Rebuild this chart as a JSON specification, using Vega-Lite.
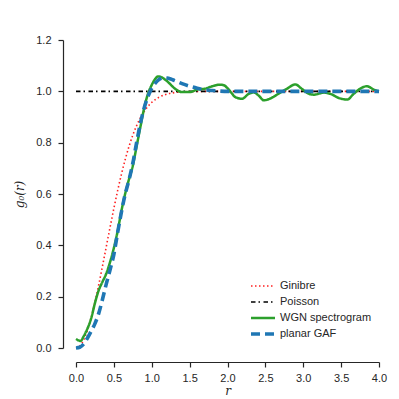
{
  "$schema": "https://vega.github.io/schema/vega-lite/v6.json",
  "autosize": {"type": "none"},
  "padding": {"left": 76, "top": 40, "right": 20, "bottom": 51},
  "width": 303,
  "height": 308,
  "config": {
    "view": {"stroke": null},
    "axis": {
      "grid": false,
      "domainColor": "#262626",
      "tickColor": "#262626",
      "labelColor": "#262626",
      "titleColor": "#262626",
      "tickSize": 5,
      "domainWidth": 1.2,
      "tickWidth": 1.2,
      "labelFont": "Liberation Sans",
      "labelFontSize": 11,
      "titleFont": "DejaVu Serif",
      "titleFontStyle": "italic",
      "titleFontWeight": "normal",
      "titleFontSize": 12
    },
    "legend": {
      "labelFont": "Liberation Sans",
      "labelFontSize": 11,
      "labelColor": "#262626"
    }
  },
  "data": {
    "values": [
      {"series": "Ginibre", "r": 0, "g": 0},
      {"series": "Ginibre", "r": 0.05, "g": 0.0078},
      {"series": "Ginibre", "r": 0.1, "g": 0.0309},
      {"series": "Ginibre", "r": 0.15, "g": 0.0682},
      {"series": "Ginibre", "r": 0.2, "g": 0.1181},
      {"series": "Ginibre", "r": 0.25, "g": 0.1783},
      {"series": "Ginibre", "r": 0.3, "g": 0.2463},
      {"series": "Ginibre", "r": 0.35, "g": 0.3194},
      {"series": "Ginibre", "r": 0.4, "g": 0.3951},
      {"series": "Ginibre", "r": 0.45, "g": 0.4707},
      {"series": "Ginibre", "r": 0.5, "g": 0.5441},
      {"series": "Ginibre", "r": 0.55, "g": 0.6134},
      {"series": "Ginibre", "r": 0.6, "g": 0.6773},
      {"series": "Ginibre", "r": 0.65, "g": 0.7348},
      {"series": "Ginibre", "r": 0.7, "g": 0.7855},
      {"series": "Ginibre", "r": 0.75, "g": 0.8292},
      {"series": "Ginibre", "r": 0.8, "g": 0.8661},
      {"series": "Ginibre", "r": 0.85, "g": 0.8967},
      {"series": "Ginibre", "r": 0.9, "g": 0.9215},
      {"series": "Ginibre", "r": 0.95, "g": 0.9413},
      {"series": "Ginibre", "r": 1.0, "g": 0.9568},
      {"series": "Ginibre", "r": 1.1, "g": 0.9777},
      {"series": "Ginibre", "r": 1.2, "g": 0.9892},
      {"series": "Ginibre", "r": 1.3, "g": 0.9951},
      {"series": "Ginibre", "r": 1.4, "g": 0.9979},
      {"series": "Ginibre", "r": 1.5, "g": 0.9992},
      {"series": "Ginibre", "r": 1.7, "g": 1.0},
      {"series": "Ginibre", "r": 2.0, "g": 1.0},
      {"series": "Ginibre", "r": 4.0, "g": 1.0},
      {"series": "Poisson", "r": 0, "g": 1.0},
      {"series": "Poisson", "r": 4.0, "g": 1.0},
      {"series": "WGN spectrogram", "r": 0, "g": 0.035},
      {"series": "WGN spectrogram", "r": 0.03, "g": 0.03},
      {"series": "WGN spectrogram", "r": 0.06, "g": 0.027},
      {"series": "WGN spectrogram", "r": 0.1, "g": 0.045},
      {"series": "WGN spectrogram", "r": 0.15, "g": 0.075},
      {"series": "WGN spectrogram", "r": 0.2, "g": 0.115},
      {"series": "WGN spectrogram", "r": 0.25, "g": 0.175},
      {"series": "WGN spectrogram", "r": 0.3, "g": 0.225},
      {"series": "WGN spectrogram", "r": 0.35, "g": 0.258},
      {"series": "WGN spectrogram", "r": 0.4, "g": 0.29},
      {"series": "WGN spectrogram", "r": 0.45, "g": 0.335},
      {"series": "WGN spectrogram", "r": 0.5, "g": 0.39},
      {"series": "WGN spectrogram", "r": 0.55, "g": 0.455},
      {"series": "WGN spectrogram", "r": 0.6, "g": 0.535},
      {"series": "WGN spectrogram", "r": 0.65, "g": 0.602},
      {"series": "WGN spectrogram", "r": 0.7, "g": 0.658},
      {"series": "WGN spectrogram", "r": 0.75, "g": 0.71},
      {"series": "WGN spectrogram", "r": 0.8, "g": 0.785},
      {"series": "WGN spectrogram", "r": 0.85, "g": 0.861},
      {"series": "WGN spectrogram", "r": 0.9, "g": 0.935},
      {"series": "WGN spectrogram", "r": 0.95, "g": 0.99},
      {"series": "WGN spectrogram", "r": 1.0, "g": 1.025},
      {"series": "WGN spectrogram", "r": 1.05, "g": 1.05},
      {"series": "WGN spectrogram", "r": 1.08, "g": 1.058},
      {"series": "WGN spectrogram", "r": 1.12, "g": 1.056},
      {"series": "WGN spectrogram", "r": 1.2, "g": 1.04},
      {"series": "WGN spectrogram", "r": 1.3, "g": 1.012},
      {"series": "WGN spectrogram", "r": 1.4, "g": 0.997},
      {"series": "WGN spectrogram", "r": 1.5, "g": 0.997},
      {"series": "WGN spectrogram", "r": 1.6, "g": 1.007},
      {"series": "WGN spectrogram", "r": 1.7, "g": 1.01},
      {"series": "WGN spectrogram", "r": 1.8, "g": 1.02},
      {"series": "WGN spectrogram", "r": 1.9, "g": 1.026},
      {"series": "WGN spectrogram", "r": 1.95, "g": 1.024},
      {"series": "WGN spectrogram", "r": 2.0, "g": 1.012},
      {"series": "WGN spectrogram", "r": 2.05, "g": 0.995},
      {"series": "WGN spectrogram", "r": 2.1, "g": 0.978},
      {"series": "WGN spectrogram", "r": 2.19, "g": 0.971},
      {"series": "WGN spectrogram", "r": 2.28, "g": 0.99},
      {"series": "WGN spectrogram", "r": 2.345, "g": 0.996},
      {"series": "WGN spectrogram", "r": 2.41, "g": 0.984},
      {"series": "WGN spectrogram", "r": 2.48, "g": 0.965},
      {"series": "WGN spectrogram", "r": 2.565, "g": 0.972},
      {"series": "WGN spectrogram", "r": 2.675, "g": 0.991},
      {"series": "WGN spectrogram", "r": 2.785, "g": 1.01},
      {"series": "WGN spectrogram", "r": 2.895, "g": 1.027},
      {"series": "WGN spectrogram", "r": 2.98, "g": 1.01},
      {"series": "WGN spectrogram", "r": 3.07, "g": 0.991},
      {"series": "WGN spectrogram", "r": 3.14, "g": 0.987},
      {"series": "WGN spectrogram", "r": 3.27, "g": 0.995},
      {"series": "WGN spectrogram", "r": 3.36, "g": 0.99},
      {"series": "WGN spectrogram", "r": 3.47, "g": 0.974},
      {"series": "WGN spectrogram", "r": 3.58, "g": 0.968},
      {"series": "WGN spectrogram", "r": 3.665, "g": 0.99},
      {"series": "WGN spectrogram", "r": 3.75, "g": 1.01},
      {"series": "WGN spectrogram", "r": 3.84, "g": 1.02},
      {"series": "WGN spectrogram", "r": 3.93, "g": 1.007},
      {"series": "WGN spectrogram", "r": 4.0, "g": 1.0},
      {"series": "planar GAF", "r": 0, "g": 0},
      {"series": "planar GAF", "r": 0.05, "g": 0.003},
      {"series": "planar GAF", "r": 0.1, "g": 0.015},
      {"series": "planar GAF", "r": 0.15, "g": 0.038},
      {"series": "planar GAF", "r": 0.2, "g": 0.065},
      {"series": "planar GAF", "r": 0.25, "g": 0.095},
      {"series": "planar GAF", "r": 0.3, "g": 0.135},
      {"series": "planar GAF", "r": 0.35, "g": 0.19},
      {"series": "planar GAF", "r": 0.4, "g": 0.25},
      {"series": "planar GAF", "r": 0.45, "g": 0.305},
      {"series": "planar GAF", "r": 0.5, "g": 0.365},
      {"series": "planar GAF", "r": 0.55, "g": 0.45},
      {"series": "planar GAF", "r": 0.6, "g": 0.53},
      {"series": "planar GAF", "r": 0.65, "g": 0.6},
      {"series": "planar GAF", "r": 0.7, "g": 0.655},
      {"series": "planar GAF", "r": 0.75, "g": 0.72},
      {"series": "planar GAF", "r": 0.8, "g": 0.8},
      {"series": "planar GAF", "r": 0.85, "g": 0.875},
      {"series": "planar GAF", "r": 0.9, "g": 0.935},
      {"series": "planar GAF", "r": 0.95, "g": 0.98},
      {"series": "planar GAF", "r": 1.0, "g": 1.012},
      {"series": "planar GAF", "r": 1.05, "g": 1.033},
      {"series": "planar GAF", "r": 1.1, "g": 1.047},
      {"series": "planar GAF", "r": 1.15, "g": 1.053},
      {"series": "planar GAF", "r": 1.2, "g": 1.052},
      {"series": "planar GAF", "r": 1.25, "g": 1.048},
      {"series": "planar GAF", "r": 1.3, "g": 1.042},
      {"series": "planar GAF", "r": 1.4, "g": 1.03},
      {"series": "planar GAF", "r": 1.5, "g": 1.02},
      {"series": "planar GAF", "r": 1.6, "g": 1.012},
      {"series": "planar GAF", "r": 1.7, "g": 1.006},
      {"series": "planar GAF", "r": 1.8, "g": 1.003},
      {"series": "planar GAF", "r": 1.9, "g": 1.001},
      {"series": "planar GAF", "r": 2.0, "g": 1.0},
      {"series": "planar GAF", "r": 4.0, "g": 1.0}
    ]
  },
  "mark": {"type": "line", "interpolate": "monotone", "clip": false},
  "encoding": {
    "x": {
      "field": "r", "type": "quantitative",
      "scale": {"domain": [0, 4], "nice": false, "zero": false},
      "axis": {"values": [0, 0.5, 1, 1.5, 2, 2.5, 3, 3.5, 4], "format": ".1f", "offset": 14, "title": "r", "labelPadding": 5, "titlePadding": 2, "labelFlush": false}
    },
    "y": {
      "field": "g", "type": "quantitative",
      "scale": {"domain": [0, 1.2], "nice": false, "zero": false},
      "axis": {"values": [0, 0.2, 0.4, 0.6, 0.8, 1.0, 1.2], "format": ".1f", "offset": 13, "title": "g₀(r)", "labelPadding": 7, "titlePadding": 9, "labelFlush": false}
    },
    "color": {
      "field": "series", "type": "nominal",
      "scale": {"domain": ["Ginibre", "Poisson", "WGN spectrogram", "planar GAF"], "range": ["#ff2020", "#000000", "#2ca02c", "#1f77b4"]},
      "legend": {"title": null, "orient": "none", "legendX": 173, "legendY": 238, "symbolType": "stroke", "symbolSize": 576, "clipHeight": 16, "rowPadding": 0, "labelOffset": 3, "padding": 0, "symbolOpacity": 1}
    },
    "strokeDash": {
      "field": "series", "type": "nominal",
      "scale": {"domain": ["Ginibre", "Poisson", "WGN spectrogram", "planar GAF"], "range": [[1.5, 2.5], [4.5, 3, 1.5, 3.5], [1, 0], [9, 5]]},
      "legend": {"title": null}
    },
    "strokeWidth": {
      "field": "series", "type": "nominal",
      "scale": {"type": "ordinal", "domain": ["Ginibre", "Poisson", "WGN spectrogram", "planar GAF"], "range": [1.6, 1.6, 2.5, 3.6]},
      "legend": {"title": null}
    }
  }
}
